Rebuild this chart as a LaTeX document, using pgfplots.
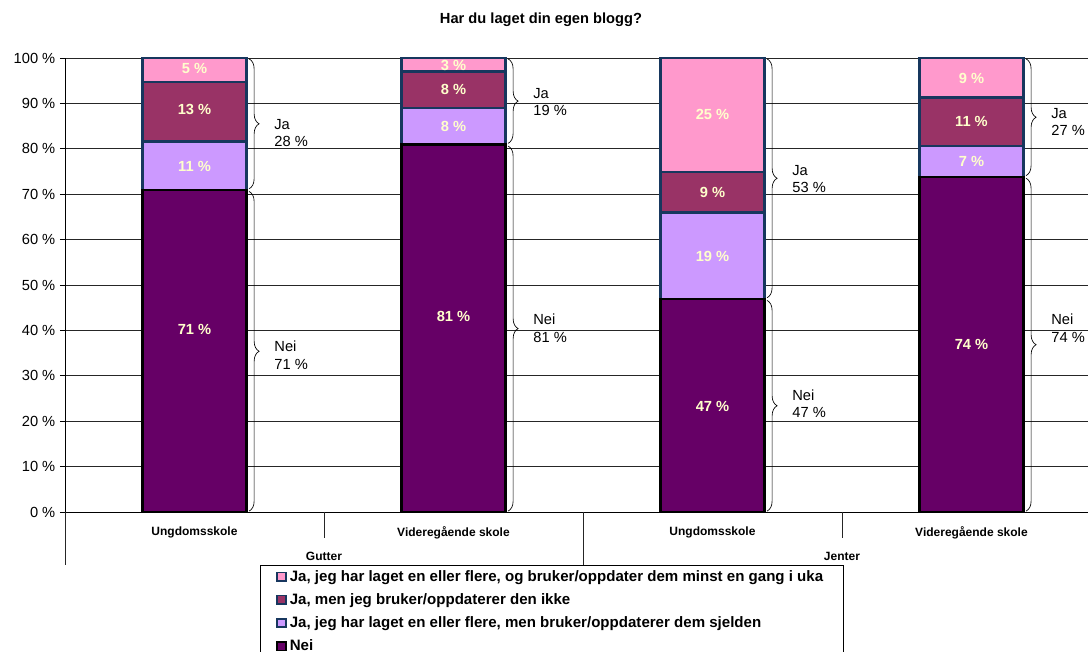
\documentclass[border=0pt]{standalone}
\usepackage{fontspec}
\setmainfont{Liberation Sans}
\usepackage{pgfplots}
\pgfplotsset{compat=1.18}
\usetikzlibrary{decorations.pathreplacing}
\definecolor{nei}{HTML}{660066}
\definecolor{lpurple}{HTML}{CC99FF}
\definecolor{maroon}{HTML}{993366}
\definecolor{lpink}{HTML}{FF99CC}
\definecolor{navy}{HTML}{17375E}
\definecolor{labc}{HTML}{FFFFCC}
\newcommand{\f}[1]{\fontsize{#1}{#1}\selectfont}
\tikzset{br/.style={decorate, decoration={brace, amplitude=7.5pt}, line width=0.5pt},
  bl/.style={anchor=west, align=left, font=\f{11}, inner sep=0pt}}
\begin{document}
\begin{tikzpicture}
\path[use as bounding box] (0,0) rectangle (816pt,489pt);
\node[font=\bfseries\f{11}] at (405.75pt,474pt) {Har du laget din egen blogg?};
\begin{axis}[
  at={(48.75pt,105pt)}, anchor=south west,
  scale only axis, width=767.25pt, height=340.5pt,
  ybar stacked, bar width=0.4,
  xmin=-0.5, xmax=3.45, ymin=0, ymax=100,
  enlargelimits=false, clip=false,
  axis x line*=bottom, axis y line*=left,
  axis line style={black, line width=0.6pt},
  ytick={0,10,...,100},
  yticklabels={0 \%,10 \%,20 \%,30 \%,40 \%,50 \%,60 \%,70 \%,80 \%,90 \%,100 \%},
  yticklabel style={font=\f{11}},
  ymajorgrids, grid style={black!85, line width=0.6pt},
  ytick style={black, line width=0.6pt},
  tick align=outside, major tick length=3.75pt,
  xtick={0,1,2,3},
  xticklabels={Ungdomsskole,Videregående skole,Ungdomsskole,Videregående skole},
  xticklabel style={font=\bfseries\f{9}, yshift=-4pt},
  xtick style={draw=none},
  reverse legend,
  legend cell align=left,
  legend style={at={(0.1906,-0.1167)}, anchor=north west, draw=black, line width=0.6pt,
    font=\bfseries\f{11.3}, row sep=3.6pt, inner xsep=12pt, inner ysep=1.8pt,
    nodes={inner xsep=2.5pt}},
  legend image code/.code={\draw[#1, line width=1.2pt] (0.6pt,-3.2pt) rectangle (7pt,3.2pt);},
]
\addplot[fill=nei, draw=black, line width=2pt] coordinates {(0,70.9) (1,80.9) (2,46.9) (3,73.8)};
\addplot[fill=lpurple, draw=navy, line width=2pt] coordinates {(0,10.7) (1,8.1) (2,19.0) (3,6.8)};
\addplot[fill=maroon, draw=navy, line width=2pt] coordinates {(0,13.1) (1,8.0) (2,9.0) (3,10.7)};
\addplot[fill=lpink, draw=navy, line width=2pt] coordinates {(0,5.3) (1,3.0) (2,25.1) (3,8.7)};
\addlegendentry{Nei}
\addlegendentry{Ja, jeg har laget en eller flere, men bruker/oppdaterer dem sjelden}
\addlegendentry{Ja, men jeg bruker/oppdaterer den ikke}
\addlegendentry{Ja, jeg har laget en eller flere, og bruker/oppdater dem minst en gang i uka\hspace*{1pt}}
% separators
\draw[black!85, line width=0.6pt] (axis cs:0.5,0) -- ([yshift=-19.5pt]axis cs:0.5,0);
\draw[black!85, line width=0.6pt] (axis cs:1.5,0) -- ([yshift=-39.75pt]axis cs:1.5,0);
\draw[black!85, line width=0.6pt] (axis cs:2.5,0) -- ([yshift=-19.5pt]axis cs:2.5,0);
\draw[black!85, line width=0.6pt] (axis cs:-0.5,0) -- ([yshift=-39.75pt]axis cs:-0.5,0);
\node[font=\bfseries\f{9}] at ([yshift=-33pt]axis cs:0.5,0) {Gutter};
\node[font=\bfseries\f{9}] at ([yshift=-33pt]axis cs:2.5,0) {Jenter};
\end{axis}
\begin{axis}[
  at={(48.75pt,105pt)}, anchor=south west,
  scale only axis, width=767.25pt, height=340.5pt,
  xmin=-0.5, xmax=3.45, ymin=0, ymax=100,
  enlargelimits=false, clip=false, hide axis,
]
\addplot[draw=none, mark=none, nodes near coords, point meta=explicit symbolic,
  every node near coord/.append style={anchor=center, font=\bfseries\f{11}, text=labc, inner sep=0pt}]
  coordinates {
  (0,40.1) [71 \%] (0,76.2) [11 \%] (0,88.6) [13 \%] (0,97.6) [5 \%]
  (1,43.0) [81 \%] (1,85.0) [8 \%] (1,93.0) [8 \%] (1,98.3) [3 \%]
  (2,23.3) [47 \%] (2,56.3) [19 \%] (2,70.4) [9 \%] (2,87.5) [25 \%]
  (3,36.8) [74 \%] (3,77.3) [7 \%] (3,86.0) [11 \%] (3,95.6) [9 \%]
  };
\draw[br] (axis cs:0.211,99.8) -- (axis cs:0.211,71.2);
\draw[br] (axis cs:0.211,70.6) -- (axis cs:0.211,0.2);
\draw[br] (axis cs:1.211,99.8) -- (axis cs:1.211,81.2);
\draw[br] (axis cs:1.211,80.6) -- (axis cs:1.211,0.2);
\draw[br] (axis cs:2.211,99.8) -- (axis cs:2.211,47.2);
\draw[br] (axis cs:2.211,46.6) -- (axis cs:2.211,0.2);
\draw[br] (axis cs:3.211,99.8) -- (axis cs:3.211,74.1);
\draw[br] (axis cs:3.211,73.5) -- (axis cs:3.211,0.2);
\node[bl] at ([xshift=18.75pt]axis cs:0.211,83.5) {Ja\\[2pt]28 \%};
\node[bl] at ([xshift=18.75pt]axis cs:0.211,34.5) {Nei\\[2pt]71 \%};
\node[bl] at ([xshift=18.75pt]axis cs:1.211,90.3) {Ja\\[2pt]19 \%};
\node[bl] at ([xshift=18.75pt]axis cs:1.211,40.5) {Nei\\[2pt]81 \%};
\node[bl] at ([xshift=18.75pt]axis cs:2.211,73.3) {Ja\\[2pt]53 \%};
\node[bl] at ([xshift=18.75pt]axis cs:2.211,23.8) {Nei\\[2pt]47 \%};
\node[bl] at ([xshift=18.75pt]axis cs:3.211,85.9) {Ja\\[2pt]27 \%};
\node[bl] at ([xshift=18.75pt]axis cs:3.211,40.5) {Nei\\[2pt]74 \%};
\end{axis}
\end{tikzpicture}
\end{document}
